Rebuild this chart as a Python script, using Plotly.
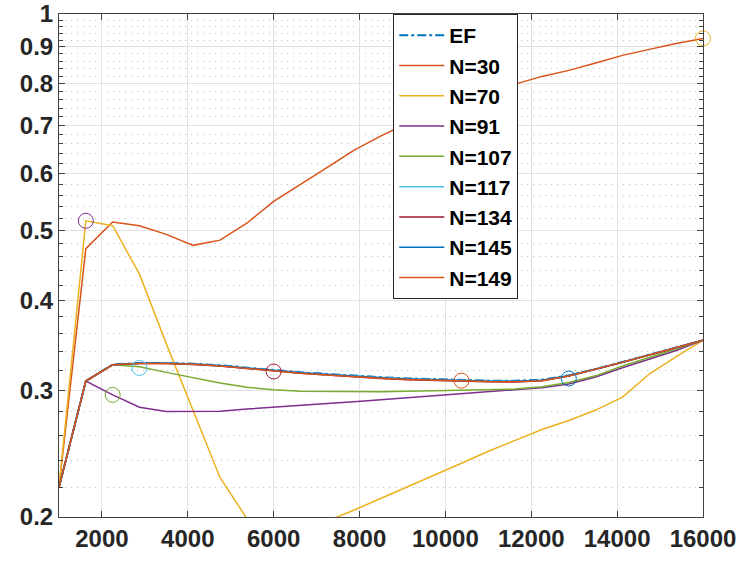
import plotly.graph_objects as go

# Sample sizes along the horizontal axis
x_vals = [1000, 1625, 2250, 2875, 3500, 4125, 4750, 5375, 6000, 6625, 7250, 7875,
          8500, 9125, 9750, 10375, 11000, 11625, 12250, 12875, 13500, 14125,
          14750, 15375, 16000]

ef = [0.220, 0.309, 0.3258, 0.3274, 0.3274, 0.3266, 0.3250, 0.3226, 0.3196, 0.3178,
      0.3161, 0.3143, 0.3128, 0.3116, 0.3107, 0.3099, 0.3094, 0.3093, 0.3102, 0.3147,
      0.3211, 0.3285, 0.3362, 0.3439, 0.352]
n30 = [0.220, 0.472, 0.514, 0.508, 0.494, 0.477, 0.485, 0.512, 0.549, 0.579, 0.612,
       0.647, 0.677, 0.705, 0.730, 0.753, 0.776, 0.799, 0.819, 0.835, 0.855, 0.876,
       0.893, 0.910, 0.925]
n70 = [0.220, 0.516, 0.508, 0.435, 0.348, 0.281, 0.227, 0.199, 0.186, 0.189, 0.1975,
       0.2045, 0.2122, 0.2203, 0.2289, 0.2375, 0.2468, 0.2556, 0.2646, 0.2724, 0.2816,
       0.2935, 0.3160, 0.3340, 0.352]
n91 = [0.220, 0.309, 0.2956, 0.2842, 0.2803, 0.2802, 0.2805, 0.2825, 0.2840, 0.2857,
       0.2875, 0.2893, 0.2912, 0.2931, 0.2950, 0.2969, 0.2987, 0.3006, 0.3025, 0.3060,
       0.3130, 0.3225, 0.3312, 0.3408, 0.352]
n107 = [0.220, 0.309, 0.3256, 0.3235, 0.3177, 0.3121, 0.3070, 0.3030, 0.3004, 0.2990,
        0.2986, 0.2983, 0.2985, 0.2990, 0.2995, 0.2998, 0.3004, 0.3012, 0.3035, 0.3075,
        0.3142, 0.3242, 0.3332, 0.3425, 0.352]
n117 = [0.220, 0.309, 0.3256, 0.3271, 0.3271, 0.3263, 0.3247, 0.3222, 0.3192, 0.3174,
        0.3157, 0.3139, 0.3124, 0.3112, 0.3103, 0.3095, 0.3090, 0.3089, 0.3099, 0.3145,
        0.3209, 0.3283, 0.3361, 0.3438, 0.352]
n134 = [0.220, 0.309, 0.3255, 0.3268, 0.3268, 0.3259, 0.3242, 0.3216, 0.3186, 0.3167,
        0.3150, 0.3131, 0.3116, 0.3104, 0.3095, 0.3087, 0.3082, 0.3081, 0.3092, 0.3140,
        0.3206, 0.3280, 0.3358, 0.3436, 0.352]
n145 = [0.220, 0.309, 0.3256, 0.3270, 0.3270, 0.3262, 0.3245, 0.3220, 0.3190, 0.3172,
        0.3155, 0.3137, 0.3122, 0.3110, 0.3101, 0.3093, 0.3088, 0.3087, 0.3097, 0.3143,
        0.3208, 0.3282, 0.3360, 0.3437, 0.352]
n149 = [0.220, 0.309, 0.3255, 0.3268, 0.3268, 0.3260, 0.3243, 0.3217, 0.3187, 0.3168,
        0.3151, 0.3133, 0.3118, 0.3106, 0.3097, 0.3090, 0.3085, 0.3084, 0.3094, 0.3141,
        0.3207, 0.3281, 0.3359, 0.3437, 0.352]

series_names = ["EF", "N=30", "N=70", "N=91", "N=107", "N=117", "N=134", "N=145", "N=149"]
series_values = [ef, n30, n70, n91, n107, n117, n134, n145, n149]
series_colors = ["#0072BD", "#D95319", "#EDB120", "#7E2F8E", "#77AC30",
                 "#4DBEEE", "#A2142F", "#0072BD", "#D95319"]

# Highlighted points (open circles)
circle_x = [16000, 1625, 2250, 2875, 6000, 12875, 10375]
circle_y = [0.925, 0.516, 0.2956, 0.3222, 0.3186, 0.3115, 0.3094]
circle_colors = ["#EDB120", "#7E2F8E", "#77AC30", "#4DBEEE", "#A2142F", "#0072BD", "#D95319"]

x_ticks = [2000, 4000, 6000, 8000, 10000, 12000, 14000, 16000]
x_tick_text = ["2000", "4000", "6000", "8000", "10000", "12000", "14000", "16000"]
y_ticks = [0.2, 0.3, 0.4, 0.5, 0.6, 0.7, 0.8, 0.9, 1.0]
y_tick_text = ["0.2", "0.3", "0.4", "0.5", "0.6", "0.7", "0.8", "0.9", "1"]
y_minor = [round(0.2 + 0.02 * k, 2) for k in range(1, 40) if k % 5 != 0]

fig = go.Figure()

for name, vals, col in zip(series_names, series_values, series_colors):
    fig.add_trace(go.Scatter(
        x=x_vals, y=vals, mode="lines", name=name,
        line=dict(color=col, width=2 if name == "EF" else 1.5,
                  dash="dashdot" if name == "EF" else "solid"),
    ))

for cx, cy, cc in zip(circle_x, circle_y, circle_colors):
    fig.add_trace(go.Scatter(
        x=[cx], y=[cy], mode="markers", showlegend=False, cliponaxis=False,
        marker=dict(symbol="circle-open", size=15, color=cc, line=dict(width=1)),
    ))

axis_col = "#404040"
tick_font = dict(family="Liberation Sans", size=24, color="#262626", weight="bold")

fig.update_xaxes(
    range=[1000, 16000], tickvals=x_ticks, ticktext=x_tick_text,
    ticks="inside", ticklen=6, tickcolor=axis_col,
    showline=True, linecolor=axis_col, linewidth=1, mirror="allticks",
    showgrid=True, gridcolor="#e2e2e2", gridwidth=1, zeroline=False,
    tickfont=tick_font, ticklabeloverflow="allow", automargin=False,
)
fig.update_yaxes(
    type="log", range=[-0.69897, 0], tickvals=y_ticks, ticktext=y_tick_text,
    ticks="inside", ticklen=6, tickcolor=axis_col,
    showline=True, linecolor=axis_col, linewidth=1, mirror="allticks",
    showgrid=True, gridcolor="#e2e2e2", gridwidth=1, zeroline=False,
    tickfont=tick_font, ticklabeloverflow="allow", automargin=False,
    minor=dict(tickvals=y_minor, ticks="inside", ticklen=4, tickcolor=axis_col,
               showgrid=True, gridcolor="#bdbdbd", griddash="1px,5px", gridwidth=1),
)

fig.update_layout(
    width=741, height=562,
    margin=dict(l=59, r=38, t=14, b=45),
    paper_bgcolor="white", plot_bgcolor="white",
    showlegend=True,
    legend=dict(
        x=0.519, y=1.0, xanchor="left", yanchor="top",
        bgcolor="white", bordercolor="#262626", borderwidth=1,
        font=dict(family="Liberation Sans", size=21, color="black", weight="bold"),
        itemwidth=45,
    ),
)

fig.write_html("out.html")
